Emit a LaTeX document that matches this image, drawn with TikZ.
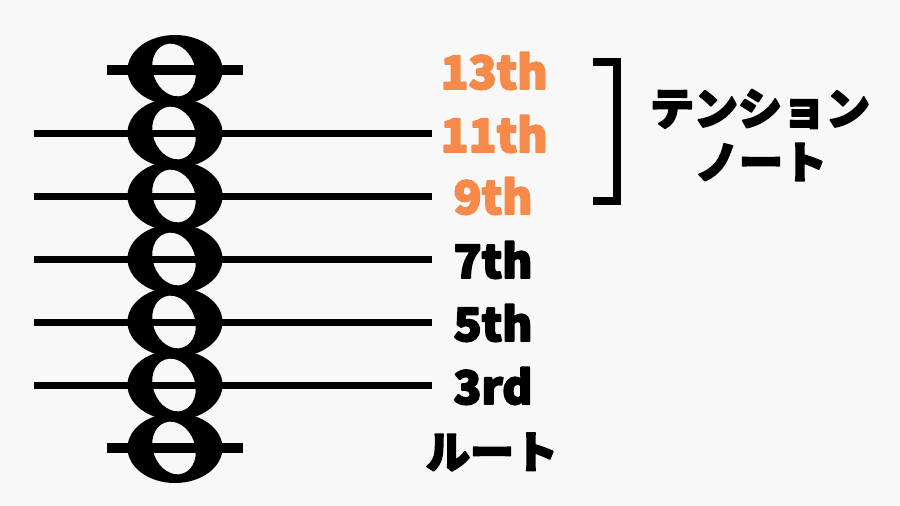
\documentclass[tikz,border=0pt]{standalone}
\usepackage{fontspec}
\newfontfamily\jp{Noto Sans CJK JP}
\definecolor{bgcol}{RGB}{248,248,248}
\definecolor{tension}{RGB}{245,138,75}
\newcommand{\heavytext}[1]{\special{pdf:literal 2 Tr 1.8 w 1 j}#1\special{pdf:literal 0 Tr}}
\begin{document}
\begin{tikzpicture}[x=1pt,y=-1pt,
  staffline/.style={line width=7pt},
  ledger/.style={line width=10pt},
  numlbl/.style={font=\jp\bfseries\fontsize{46pt}{50pt}\selectfont, inner sep=0pt, anchor=center},
  kanalbl/.style={font=\jp\bfseries\fontsize{44pt}{48pt}\selectfont, inner sep=0pt, anchor=center},
  tens/.style={text=tension},
  notehead/.style={fill=black, even odd rule}
]
\fill[bgcol] (0,0) rectangle (900,506);
\useasboundingbox (0,0) rectangle (900,506);
% whole notes
\foreach \y in {70,133,196,259,322,385,448}{
  \path[notehead] (175,\y) ellipse [x radius=47.5, y radius=35]
    (174,\y) ellipse [x radius=21, y radius=27, rotate=20];
}
% staff lines
\foreach \y in {133,196,259,322,385}{
  \draw[staffline] (34,\y) -- (432,\y);
}
% ledger lines
\draw[ledger] (107,70) -- (243,70);
\draw[ledger] (107,448) -- (243,448);
% labels
\node[numlbl,tens] (l13) at (494,71) {\heavytext{13th}};
\node[numlbl,tens] (l11) at (494,134) {\heavytext{11th}};
\node[numlbl,tens] (l9) at (493,196) {\heavytext{9th}};
\node[numlbl] (l7) at (493,260) {\heavytext{7th}};
\node[numlbl] (l5) at (493,323) {\heavytext{5th}};
\node[numlbl] (l3) at (493,386) {\heavytext{3rd}};
\node[kanalbl] (root) at (492,452) {\heavytext{ルート}};
% bracket
\draw[line width=8pt, line join=miter] (593,62) -| (617,201) -- (593,201);
\node[kanalbl] (ten1) at (760,109) {\heavytext{テンション}};
\node[kanalbl] (ten2) at (761,162) {\heavytext{ノート}};
\end{tikzpicture}
\end{document}
